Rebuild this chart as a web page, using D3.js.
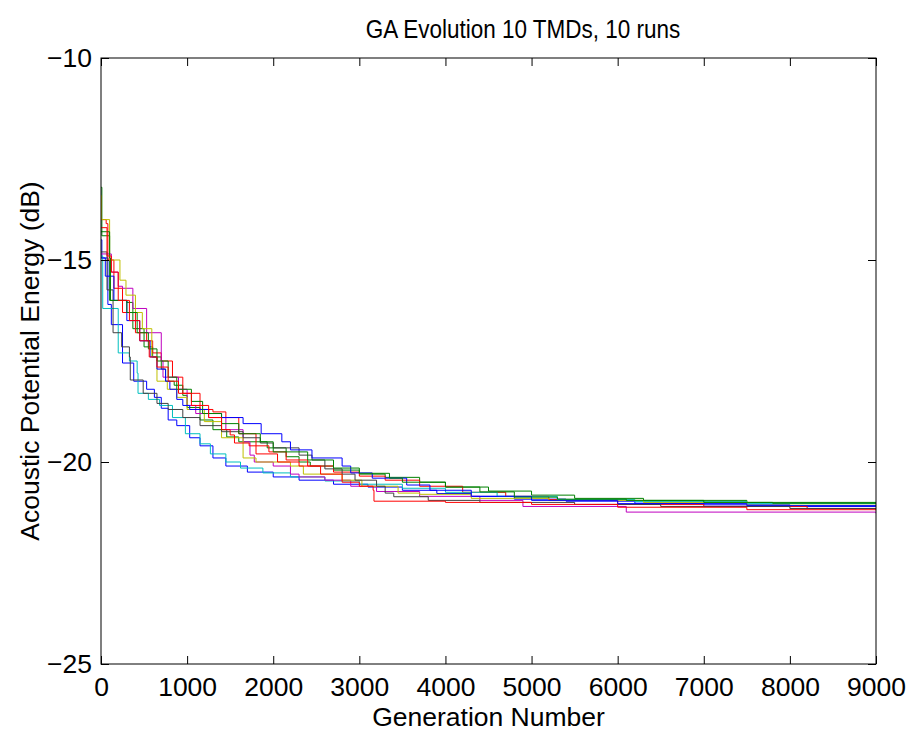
<!DOCTYPE html>
<html>
<head>
<meta charset="utf-8">
<script src="https://cdn.jsdelivr.net/npm/d3@7"></script>
<style>
  body { margin: 0; background: #fff; }
  text { font-family: "Liberation Sans", Arial, Helvetica, sans-serif; fill: #000; }
</style>
</head>
<body>
<svg id="chart" width="911" height="731"></svg>
<script>
// best-so-far energy per generation for each of the 10 runs, [generation, dB]
const run1 = [[0,-14.5],[10,-14.95],[80,-16.1],[120,-16.6],[250,-17.55],[380,-18.0],[530,-18.2],[620,-18.4],[700,-18.67],[780,-18.96],[880,-19.1],[1030,-19.4],[1150,-19.6],[1300,-19.9],[1450,-20.1],[1700,-20.25],[2000,-20.37],[2300,-20.45],[2700,-20.55],[3100,-20.62],[3500,-20.7],[3900,-20.78],[4300,-20.85],[4800,-20.92],[5400,-20.97],[6200,-21.02],[7000,-21.06],[8000,-21.1],[9000,-21.1]];
const run2 = [[0,-13.2],[10,-14.4],[100,-16.0],[300,-16.05],[370,-16.7],[500,-17.15],[600,-17.4],[700,-17.7],[750,-18.0],[850,-18.1],[950,-18.35],[1000,-18.65],[1150,-18.96],[1300,-19.2],[1460,-19.38],[1600,-19.5],[1930,-19.65],[2150,-19.87],[2300,-20.0],[2430,-20.1],[2700,-20.2],[3000,-20.3],[3300,-20.38],[3700,-20.5],[4000,-20.62],[4500,-20.72],[5000,-20.82],[5500,-20.9],[6300,-20.95],[7500,-21.0],[9000,-21.02]];
const run3 = [[0,-14.0],[60,-14.1],[80,-15.0],[150,-15.7],[250,-16.3],[400,-16.8],[530,-17.0],[600,-17.3],[700,-17.5],[830,-17.9],[950,-18.3],[1150,-18.7],[1300,-18.76],[1450,-18.9],[1600,-19.3],[1800,-19.6],[1950,-19.75],[2150,-19.95],[2400,-20.1],[2700,-20.25],[3000,-20.35],[3300,-20.45],[3700,-20.6],[4200,-20.75],[4700,-20.85],[5200,-20.93],[6000,-21.05],[7000,-21.1],[8200,-21.15],[9000,-21.15]];
const run4 = [[0,-14.9],[20,-16.2],[200,-17.3],[330,-17.5],[420,-17.8],[430,-18.3],[550,-18.45],[680,-18.6],[830,-18.9],[980,-19.3],[1150,-19.55],[1270,-19.8],[1450,-20.0],[1620,-20.15],[1880,-20.27],[2200,-20.37],[2600,-20.47],[3000,-20.55],[3500,-20.65],[4000,-20.75],[4600,-20.85],[5300,-20.93],[6200,-20.98],[7500,-21.03],[9000,-21.05]];
const run5 = [[0,-14.85],[120,-15.3],[200,-15.65],[250,-15.7],[370,-16.2],[530,-16.8],[700,-17.5],[720,-17.9],[900,-18.2],[1000,-18.6],[1100,-18.8],[1250,-18.9],[1450,-19.2],[1650,-19.5],[1730,-19.83],[1780,-20.0],[2000,-20.1],[2200,-20.3],[2300,-20.37],[2600,-20.45],[2900,-20.6],[3200,-20.73],[3700,-20.85],[4400,-20.95],[4900,-21.1],[6100,-21.24],[9000,-21.27]];
const run6 = [[0,-13.4],[5,-14.0],[100,-15.0],[220,-15.5],[290,-15.87],[400,-16.3],[480,-16.7],[590,-17.4],[650,-18.0],[770,-18.2],[880,-18.4],[1000,-18.7],[1200,-19.0],[1400,-19.4],[1650,-19.9],[1800,-20.0],[2200,-20.1],[2350,-20.3],[2800,-20.45],[3030,-20.6],[3450,-20.77],[3700,-20.8],[4300,-20.9],[5200,-20.95],[6300,-21.0],[7500,-21.07],[9000,-21.1]];
const run7 = [[0,-14.8],[70,-15.74],[140,-16.8],[240,-17.15],[330,-17.4],[340,-17.97],[490,-18.3],[650,-18.55],[780,-18.7],[950,-18.9],[1150,-19.1],[1400,-19.25],[1650,-19.4],[1850,-19.53],[2000,-19.65],[2300,-19.83],[2450,-19.95],[2600,-20.17],[2800,-20.3],[2950,-20.45],[3200,-20.6],[3300,-20.77],[3400,-20.86],[3800,-20.95],[4400,-21.0],[5500,-21.05],[6500,-21.1],[8000,-21.15],[9000,-21.18]];
const run8 = [[0,-14.95],[50,-15.4],[150,-16.0],[300,-16.5],[450,-17.0],[570,-17.4],[650,-17.7],[750,-18.0],[800,-18.2],[880,-18.45],[950,-18.6],[1030,-18.7],[1250,-18.8],[1400,-18.9],[1650,-19.05],[1860,-19.3],[2100,-19.5],[2200,-19.7],[2450,-19.9],[2800,-20.1],[2900,-20.27],[3150,-20.4],[3550,-20.57],[3820,-20.7],[4300,-20.85],[5000,-20.95],[6000,-21.03],[7500,-21.08],[9000,-21.1]];
const run9 = [[0,-14.3],[100,-14.95],[110,-16.0],[300,-16.3],[420,-16.8],[550,-17.2],[650,-17.5],[780,-17.9],[880,-18.2],[1050,-18.5],[1180,-18.8],[1400,-19.05],[1600,-19.3],[1850,-19.5],[2000,-19.75],[2400,-19.95],[2700,-20.15],[3000,-20.28],[3350,-20.4],[3500,-20.5],[4000,-20.62],[4400,-20.74],[4800,-20.87],[5300,-20.92],[6100,-20.95],[7000,-21.0],[7800,-21.02],[9000,-21.04]];
const run10 = [[0,-14.2],[70,-14.9],[120,-15.3],[200,-16.0],[330,-16.5],[450,-17.0],[560,-17.4],[650,-17.65],[780,-18.0],[900,-18.3],[1050,-18.6],[1250,-18.9],[1400,-19.2],[1500,-19.33],[1550,-19.53],[1720,-19.6],[1800,-19.8],[2050,-20.0],[2300,-20.1],[2550,-20.3],[2800,-20.5],[3000,-20.6],[3160,-20.7],[3170,-20.97],[4000,-21.0],[5000,-21.05],[6000,-21.12],[7500,-21.18],[9000,-21.2]];

// matlab default colour order, cycles after 7
const runColors = ['#0000ff','#008000','#ff0000','#00bfbf','#bf00bf','#bfbf00','#404040','#0000ff','#008000','#ff0000'];
const xTicks = [0,1000,2000,3000,4000,5000,6000,7000,8000,9000];
const yTicks = [-10,-15,-20,-25];

const runs = [run1,run2,run3,run4,run5,run6,run7,run8,run9,run10];

const W = 911, H = 731;
const margin = {top: 58, right: 35, bottom: 67, left: 101};
const w = W - margin.left - margin.right;
const h = H - margin.top - margin.bottom;
const fs = 26.5;

const svg = d3.select('#chart');
const g = svg.append('g').attr('transform', `translate(${margin.left},${margin.top})`);

const x = d3.scaleLinear().domain([0, 9000]).range([0, w]);
const y = d3.scaleLinear().domain([-25, -10]).range([h, 0]);

g.append('clipPath').attr('id', 'clip')
  .append('rect').attr('width', w).attr('height', h);

const line = d3.line()
  .x(d => x(d[0]))
  .y(d => y(d[1]))
  .curve(d3.curveStepAfter);

g.append('g').attr('clip-path', 'url(#clip)')
  .selectAll('path')
  .data(runs)
  .enter()
  .append('path')
  .attr('d', line)
  .attr('fill', 'none')
  .attr('stroke', (d, i) => runColors[i])
  .attr('stroke-width', 1);

// box with inward ticks on all four sides
const tickLen = 8;
const xb = g.append('g').attr('transform', `translate(0,${h})`)
  .call(d3.axisBottom(x).tickValues(xTicks).tickSizeInner(-tickLen).tickSizeOuter(0).tickPadding(13).tickFormat(d3.format('d')));
const xt = g.append('g')
  .call(d3.axisTop(x).tickValues(xTicks).tickSizeInner(-tickLen).tickSizeOuter(0).tickFormat(''));
const yl = g.append('g')
  .call(d3.axisLeft(y).tickValues(yTicks).tickSizeInner(-tickLen).tickSizeOuter(0).tickPadding(9).tickFormat(d => '\u2212' + Math.abs(d)));
const yr = g.append('g').attr('transform', `translate(${w},0)`)
  .call(d3.axisRight(y).tickValues(yTicks).tickSizeInner(-tickLen).tickSizeOuter(0).tickFormat(''));

[xb, xt, yl, yr].forEach(a => {
  a.select('.domain').remove();
  a.selectAll('line').attr('stroke', '#000');
  a.selectAll('text').attr('font-size', fs).attr('font-family', null);
});

g.append('rect')
  .attr('width', w).attr('height', h)
  .attr('fill', 'none').attr('stroke', '#000').attr('stroke-width', 1);

// title is a bit narrower than arial in the original, squeeze it a touch
svg.append('text')
  .attr('transform', 'translate(523,38) scale(0.9,1)')
  .attr('text-anchor', 'middle').attr('font-size', 25)
  .text('GA Evolution 10 TMDs, 10 runs');

svg.append('text')
  .attr('x', margin.left + w / 2).attr('y', 726)
  .attr('text-anchor', 'middle').attr('font-size', fs)
  .text('Generation Number');

svg.append('text')
  .attr('transform', `translate(39,${margin.top + h / 2}) rotate(-90)`)
  .attr('text-anchor', 'middle').attr('font-size', fs)
  .text('Acoustic Potential Energy (dB)');
</script>
</body>
</html>
